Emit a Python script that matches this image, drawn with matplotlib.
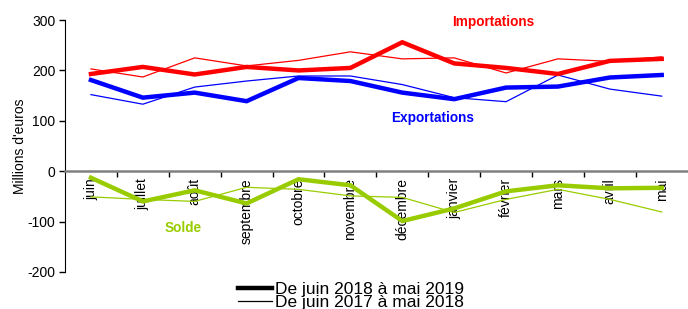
import numpy as np
import matplotlib
matplotlib.use("Agg")
import matplotlib.pyplot as plt
from matplotlib.lines import Line2D

plt.rcParams['font.family'] = ['Liberation Sans', 'DejaVu Sans']
plt.rcParams['axes.unicode_minus'] = False

mois = ["juin", "juillet", "août", "septembre", "octobre", "novembre",
        "décembre", "janvier", "février", "mars", "avril", "mai"]

# De juin 2018 à mai 2019
imports_n = [193, 207, 192, 207, 200, 205, 256, 214, 205, 193, 219, 223]
exports_n = [181, 146, 156, 139, 185, 179, 156, 143, 166, 168, 186, 191]
solde_n = [-13, -60, -38, -64, -16, -28, -99, -74, -40, -28, -34, -33]

# De juin 2017 à mai 2018
imports_p = [203, 187, 225, 209, 220, 237, 223, 225, 195, 223, 218, 227]
exports_p = [152, 133, 167, 179, 189, 189, 172, 146, 138, 191, 163, 149]
solde_p = [-51, -56, -60, -32, -36, -49, -52, -82, -56, -36, -56, -81]

red = "#ff0000"
blue = "#0000ff"
green = "#99cc00"

fig = plt.figure(figsize=(6.88, 3.09), dpi=100)
ax = fig.add_axes([0.0945, 0.12, 0.905, 0.815])

x = np.arange(len(mois))
ax.plot(x, imports_p, color=red, lw=0.9)
ax.plot(x, exports_p, color=blue, lw=0.9)
ax.plot(x, solde_p, color=green, lw=0.9)
ax.plot(x, imports_n, color=red, lw=3.2, solid_joinstyle='miter')
ax.plot(x, exports_n, color=blue, lw=3.2, solid_joinstyle='miter')
ax.plot(x, solde_n, color=green, lw=3.2, solid_joinstyle='miter')

ax.set_xlim(-0.5, len(mois) - 0.5)
ax.set_ylim(-200, 300)
ax.set_yticks([-200, -100, 0, 100, 200, 300])
ax.tick_params(axis='y', direction='out', length=4, width=1, labelsize=10, pad=3)

ax.spines['top'].set_visible(False)
ax.spines['right'].set_visible(False)
ax.spines['bottom'].set_position(('data', 0))
ax.spines['bottom'].set_color('#808080')
ax.spines['bottom'].set_linewidth(1.8)

# ticks between months, labels at months
ax.set_xticks(np.arange(0.5, len(mois) - 1, 1.0))
ax.set_xticklabels([])
ax.tick_params(axis='x', which='major', direction='out', length=4, width=1, color='#000000')
ax.set_xticks(x, minor=True)
ax.set_xticklabels(mois, minor=True, rotation=90, va='top', ha='center', fontsize=10)
ax.tick_params(axis='x', which='minor', length=0, pad=5)

ax.set_ylabel("Millions d'euros", fontsize=10, labelpad=0)

ax.text(7.75, 297, "Importations", color=red, fontweight='bold', fontsize=9.8, ha='center', va='center')
ax.text(6.58, 105, "Exportations", color=blue, fontweight='bold', fontsize=9.8, ha='center', va='center')
ax.text(1.77, -113, "Solde", color=green, fontweight='bold', fontsize=9.8, ha='center', va='center')

handles = [Line2D([], [], color='black', lw=3.2), Line2D([], [], color='black', lw=0.9)]
fig.legend(handles, ["De juin 2018 à mai 2019", "De juin 2017 à mai 2018"],
           loc='lower center', bbox_to_anchor=(0.51, -0.025), frameon=False,
           fontsize=12.5, handlelength=2.0, handletextpad=0.15, labelspacing=-0.15,
           borderaxespad=0.0)

fig.savefig("out.png", dpi=100)
